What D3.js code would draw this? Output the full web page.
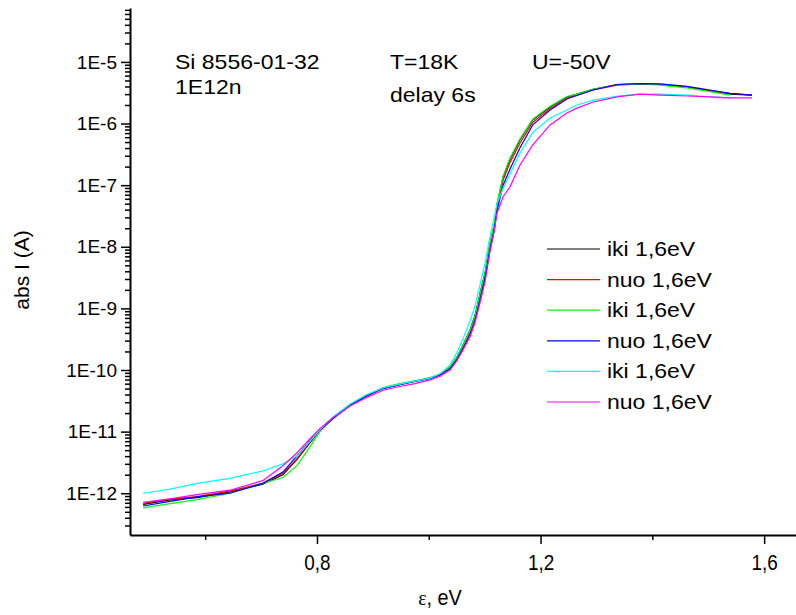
<!DOCTYPE html>
<html>
<head>
<meta charset="utf-8">
<script src="https://cdn.jsdelivr.net/npm/d3@7"></script>
<style>
	body { margin : 0; background : #fff; }
	svg text { font-family : 'Liberation Sans', Arial, sans-serif; fill : #000; }
</style>
</head>
<body>
<div id="chart"></div>
<script>
// photon energy grid, eV
const energy = [0.489, 0.537, 0.585, 0.644, 0.703, 0.739, 0.764, 0.787, 0.805, 0.829,
				0.859, 0.889, 0.918, 0.948, 0.975, 1.002, 1.020, 1.038, 1.050, 1.061,
				1.074, 1.083, 1.092, 1.101, 1.109, 1.117, 1.122, 1.133, 1.145, 1.163,
				1.186, 1.217, 1.247, 1.265, 1.294, 1.337, 1.378, 1.414, 1.462, 1.503,
				1.539, 1.578];

// abs I (A) per run
const iki1 = [6.6e-13, 7.8e-13, 8.5e-13, 1.05e-12, 1.4e-12, 2.0e-12, 3.5e-12, 6.5e-12, 1.05e-11, 1.65e-11,
			  2.7e-11, 3.9e-11, 5.1e-11, 5.9e-11, 6.6e-11, 7.4e-11, 8.5e-11, 1.12e-10, 1.6e-10, 2.5e-10,
			  4.5e-10, 7.8e-10, 1.8e-9, 3.9e-9, 1.07e-8, 2.2e-8, 4.8e-8, 1.35e-7, 2.6e-7, 5.4e-7,
			  1.15e-6, 1.86e-6, 2.7e-6, 3.0e-6, 3.6e-6, 4.3e-6, 4.4e-6, 4.3e-6, 3.9e-6, 3.4e-6,
			  3.0e-6, 2.9e-6];
const nuo1 = [6.9e-13, 8.0e-13, 8.8e-13, 1.08e-12, 1.45e-12, 2.1e-12, 3.6e-12, 6.6e-12, 1.05e-11, 1.65e-11,
			  2.7e-11, 3.9e-11, 5.0e-11, 5.8e-11, 6.5e-11, 7.3e-11, 8.4e-11, 1.08e-10, 1.5e-10, 2.3e-10,
			  4.1e-10, 7.0e-10, 1.6e-9, 3.5e-9, 9.5e-9, 2.0e-8, 4.3e-8, 1.2e-7, 2.3e-7, 4.8e-7,
			  1.05e-6, 1.75e-6, 2.6e-6, 2.9e-6, 3.5e-6, 4.2e-6, 4.4e-6, 4.3e-6, 3.9e-6, 3.4e-6,
			  3.1e-6, 2.9e-6];
const iki2 = [5.8e-13, 6.8e-13, 7.9e-13, 1.0e-12, 1.45e-12, 1.8e-12, 2.8e-12, 5.6e-12, 1.0e-11, 1.65e-11,
			  2.7e-11, 3.9e-11, 5.2e-11, 6.0e-11, 6.7e-11, 7.5e-11, 8.6e-11, 1.12e-10, 1.6e-10, 2.5e-10,
			  4.4e-10, 7.6e-10, 1.75e-9, 3.9e-9, 1.1e-8, 2.3e-8, 5.0e-8, 1.4e-7, 2.7e-7, 5.6e-7,
			  1.18e-6, 1.9e-6, 2.75e-6, 3.0e-6, 3.6e-6, 4.3e-6, 4.4e-6, 4.2e-6, 3.8e-6, 3.3e-6,
			  2.9e-6];
const nuo2 = [6.2e-13, 7.4e-13, 8.7e-13, 1.0e-12, 1.45e-12, 2.2e-12, 4.0e-12, 7.1e-12, 1.05e-11, 1.65e-11,
			  2.65e-11, 3.8e-11, 5.0e-11, 5.8e-11, 6.5e-11, 7.3e-11, 8.3e-11, 1.05e-10, 1.45e-10, 2.2e-10,
			  3.8e-10, 6.5e-10, 1.4e-9, 3.2e-9, 8.5e-9, 1.8e-8, 3.8e-8, 1.0e-7, 1.8e-7, 4.0e-7,
			  9.5e-7, 1.66e-6, 2.5e-6, 2.85e-6, 3.5e-6, 4.3e-6, 4.45e-6, 4.4e-6, 4.0e-6, 3.5e-6,
			  3.1e-6, 2.9e-6];
const iki3 = [1.0e-12, 1.17e-12, 1.45e-12, 1.74e-12, 2.3e-12, 3.0e-12, 4.0e-12, 6.9e-12, 1.07e-11, 1.74e-11,
			  2.8e-11, 4.0e-11, 5.1e-11, 5.9e-11, 6.6e-11, 7.4e-11, 8.7e-11, 1.2e-10, 1.9e-10, 3.2e-10,
			  6.3e-10, 1.12e-9, 2.5e-9, 5.6e-9, 1.4e-8, 3.0e-8, 5.0e-8, 8.9e-8, 1.5e-7, 3.3e-7,
			  7.2e-7, 1.23e-6, 1.66e-6, 2.0e-6, 2.4e-6, 2.8e-6, 3.0e-6, 3.0e-6, 2.9e-6, 2.7e-6,
			  2.6e-6];
const nuo3 = [7.1e-13, 8.1e-13, 9.5e-13, 1.12e-12, 1.6e-12, 2.8e-12, 4.5e-12, 7.6e-12, 1.12e-11, 1.7e-11,
			  2.6e-11, 3.6e-11, 4.7e-11, 5.4e-11, 6.0e-11, 6.9e-11, 7.9e-11, 1.0e-10, 1.4e-10, 2.1e-10,
			  3.5e-10, 6.0e-10, 1.26e-9, 2.8e-9, 7.9e-9, 1.8e-8, 3.5e-8, 6.5e-8, 9.3e-8, 2.1e-7,
			  4.5e-7, 9.5e-7, 1.48e-6, 1.78e-6, 2.24e-6, 2.7e-6, 3.0e-6, 2.9e-6, 2.8e-6, 2.7e-6,
			  2.6e-6, 2.6e-6];

const seriesNames  = ['iki 1,6eV', 'nuo 1,6eV', 'iki 1,6eV', 'nuo 1,6eV', 'iki 1,6eV', 'nuo 1,6eV'];
const seriesValues = [iki1, nuo1, iki2, nuo2, iki3, nuo3];
const seriesColors = ['#000000', '#ff0000', '#00ff00', '#0000ff', '#00ffff', '#ff00ff'];

const xMajor = [0.8, 1.2, 1.6];
const xMinor = [0.6, 1.0, 1.4];
const yMajor = [1e-12, 1e-11, 1e-10, 1e-9, 1e-8, 1e-7, 1e-6, 1e-5];

const notes = [
	{ text : 'Si 8556-01-32', x : 175, y : 62 },
	{ text : '1E12n',         x : 175, y : 87 },
	{ text : 'T=18K',         x : 390, y : 62 },
	{ text : 'delay 6s',      x : 390, y : 95 },
	{ text : 'U=-50V',        x : 532, y : 62 }
];

var width  = 796;
var height = 615;

var svg = d3.select( '#chart' )
			.append( 'svg' )
			.attr( 'width', width )
			.attr( 'height', height );

var x = d3.scaleLinear()
		  .domain( [0.4655, 1.657] )
		  .range( [130, 796] );

var y = d3.scaleLog()
		  .domain( [2.1e-13, 7.5e-5] )
		  .range( [535, 8] );

// curves
var line = d3.line()
			 .x( d => x( d[0] ) )
			 .y( d => y( d[1] ) );

seriesValues.forEach( ( vals, i ) => {
	svg.append( 'path' )
	   .datum( vals.map( ( v, k ) => [energy[k], v] ) )
	   .attr( 'fill', 'none' )
	   .attr( 'stroke', seriesColors[i] )
	   .attr( 'stroke-width', 1.2 )
	   .attr( 'd', line );
} );

// y axis, minor then major ticks
var yMinor = y.ticks().filter( t => yMajor.indexOf( t ) < 0 );

svg.append( 'g' )
   .attr( 'transform', 'translate(130,0)' )
   .call( d3.axisLeft( y ).tickValues( yMinor ).tickSize( 5 ).tickFormat( '' ) )
   .call( g => g.select( '.domain' ).remove() );

var yAxis = svg.append( 'g' )
			   .attr( 'transform', 'translate(130,0)' )
			   .call( d3.axisLeft( y )
						.tickValues( yMajor )
						.tickSize( 9 )
						.tickSizeOuter( 0 )
						.tickPadding( 4 )
						.tickFormat( d => '1E' + Math.round( Math.log10( d ) ) ) );

yAxis.selectAll( 'text' )
	 .attr( 'font-size', '19px' )
	 .style( 'font-family', "'Liberation Sans', Arial, sans-serif" );

// x axis
svg.append( 'g' )
   .attr( 'transform', 'translate(0,535)' )
   .call( d3.axisBottom( x ).tickValues( xMinor ).tickSize( 5 ).tickFormat( '' ) )
   .call( g => g.select( '.domain' ).remove() );

var xAxis = svg.append( 'g' )
			   .attr( 'transform', 'translate(0,535)' )
			   .call( d3.axisBottom( x )
						.tickValues( xMajor )
						.tickSize( 9 )
						.tickSizeOuter( 0 )
						.tickPadding( 10 )
						.tickFormat( d => String( d ).replace( '.', ',' ) ) );

// x labels are drawn condensed in the original
xAxis.selectAll( 'text' )
	 .attr( 'font-size', '22px' )
	 .attr( 'transform', 'scale(0.86,1)' )
	 .style( 'font-family', "'Liberation Sans', Arial, sans-serif" );

svg.selectAll( '.domain' ).attr( 'stroke-width', 2 );
svg.selectAll( '.tick line' ).attr( 'stroke-width', 1.5 );

// axis titles
var xTitle = svg.append( 'text' )
				.attr( 'transform', 'translate(440,605) scale(0.9,1)' )
				.attr( 'text-anchor', 'middle' )
				.attr( 'font-size', '22px' );
xTitle.append( 'tspan' ).style( 'font-family', "'Liberation Serif', serif" ).text( 'ε' );
xTitle.append( 'tspan' ).text( ', eV' );

svg.append( 'text' )
   .attr( 'transform', 'translate(29,270) rotate(-90)' )
   .attr( 'text-anchor', 'middle' )
   .attr( 'font-size', '21px' )
   .text( 'abs I (A)' );

// annotations
svg.selectAll( '.note' )
   .data( notes )
   .enter()
   .append( 'text' )
   .attr( 'class', 'note' )
   .attr( 'transform', d => `translate(${d.x},${d.y + 7}) scale(1.15,1)` )
   .attr( 'font-size', '20px' )
   .text( d => d.text );

// legend
var legend = svg.append( 'g' )
				.attr( 'transform', 'translate(547,249)' );

var rows = legend.selectAll( 'g' )
				 .data( seriesNames )
				 .enter()
				 .append( 'g' )
				 .attr( 'transform', ( d, i ) => `translate(0,${i * 30.6})` );

rows.append( 'line' )
	.attr( 'x1', 0 )
	.attr( 'x2', 53 )
	.attr( 'stroke', ( d, i ) => seriesColors[i] )
	.attr( 'stroke-width', 1.2 );

rows.append( 'text' )
	.attr( 'transform', 'translate(60,7) scale(1.15,1)' )
	.attr( 'font-size', '20px' )
	.text( d => d );
</script>
</body>
</html>
